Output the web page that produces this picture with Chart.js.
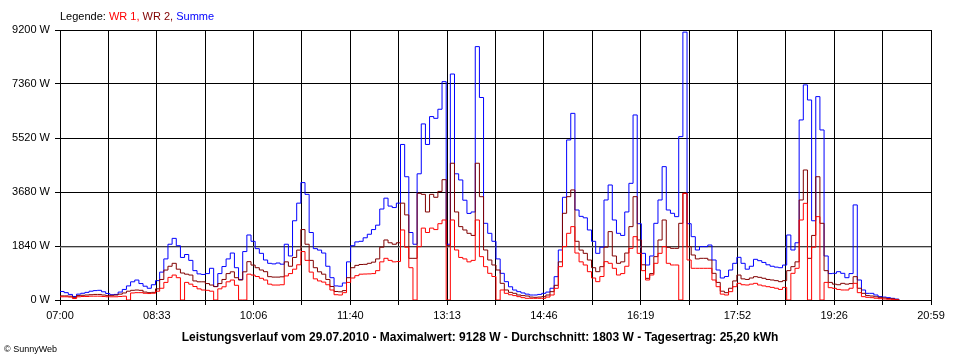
<!DOCTYPE html>
<html>
<head>
<meta charset="utf-8">
<script src="https://cdn.jsdelivr.net/npm/chart.js@4.4.1/dist/chart.umd.min.js"></script>
<style>
  html, body { margin: 0; padding: 0; background: #fff; }
  #wrap { position: relative; width: 960px; height: 360px; overflow: hidden; }
  #c { position: absolute; left: 0; top: 0; }
  .txt { position: absolute; font-family: 'Liberation Sans', Arial, sans-serif; color: #000; white-space: nowrap; }
  #legend { left: 60px; top: 10px; font-size: 11px; }
  #title { left: 0; width: 960px; top: 330px; text-align: center; font-size: 12px; font-weight: bold; }
  #copy { left: 4px; top: 344px; font-size: 9px; }
</style>
</head>
<body>
<div id="wrap">
  <canvas id="c" width="960" height="360"></canvas>
  <div id="legend" class="txt">Legende: <span style="color:#ff0000">WR 1,</span> <span style="color:#800000">WR 2,</span> <span style="color:#0000ff">Summe</span></div>
  <div id="title" class="txt">Leistungsverlauf vom 29.07.2010 - Maximalwert: 9128 W - Durchschnitt: 1803 W - Tagesertrag: 25,20 kWh</div>
  <div id="copy" class="txt">© SunnyWeb</div>
</div>
<script>
// Time axis: minutes after midnight, one sample every 4 minutes starting 07:00
const START_MIN = 420;
const STEP_MIN = 4;
const END_MIN = 1259; // 20:59

const X_TICK_LABELS = ['07:00','08:33','10:06','11:40','13:13','14:46','16:19','17:52','19:26','20:59'];
const Y_TICK_VALUES = [0, 1840, 3680, 5520, 7360, 9200];
const AVERAGE_W = 1803;

// WR 1 (W)
const WR1 = [
  110,110,100,50,110,120,120,130,130,130,
  120,110,110,110,120,130,0,240,250,250,
  230,220,230,300,400,600,770,850,760,0,
  600,540,460,380,340,330,300,0,380,450,
  620,680,500,0,0,880,850,800,740,680,
  540,510,510,520,820,900,1050,1200,1650,1350,
  950,720,650,610,520,340,180,170,250,600,
  750,830,880,885,890,900,1000,1300,1420,1350,
  1300,1310,2386,1800,1100,0,1818,2450,2300,2450,
  2400,2600,2726,0,2726,1704,1450,1400,1300,1350,
  2726,1477,1136,909,800,0,341,227,180,150,
  114,80,57,57,57,57,57,100,170,398,
  1136,1818,2272,2500,1600,1300,1193,965,750,625,
  800,1306,1250,1080,852,900,1150,1760,2158,1590,
  1000,682,852,1250,1590,1818,1250,1193,1193,0,
  3635,1363,1080,1080,1080,1080,1080,682,454,200,
  170,284,454,568,520,511,540,568,511,480,
  454,430,400,360,430,0,909,1080,2726,3294,
  0,1800,2840,0,600,420,398,360,341,341,
  400,568,250,114,90,80,60,45,35,25,
  20,10,0
];

// WR 2 (W)
const WR2 = [
  140,140,130,90,150,160,170,180,190,190,
  170,150,160,170,200,240,300,330,340,330,
  270,250,260,380,700,1020,1150,1250,1050,920,
  880,850,650,620,620,560,510,455,560,700,
  900,960,760,680,960,1306,1190,1100,1022,965,
  795,780,780,790,1300,1150,1450,1700,2400,1900,
  1350,1100,960,880,700,460,290,280,320,760,
  1100,1180,1210,1215,1250,1290,1400,1800,2045,1950,
  1900,1950,3300,2900,1420,1420,3635,3600,3000,3600,
  3500,3700,4100,1850,4660,3000,2500,2386,2272,2200,
  4660,3520,1704,1363,1193,1022,568,341,260,227,
  170,150,136,100,91,100,114,170,284,500,
  1300,2954,3521,3750,2000,1700,1590,1363,1100,965,
  1136,1800,2330,1500,1250,1300,1600,2500,3521,2045,
  1200,738,900,1477,2045,2726,1795,1760,1760,2613,
  3635,1818,1533,1400,1420,1420,1363,909,600,300,
  250,400,650,850,720,700,750,795,772,740,
  700,682,660,625,660,1000,1136,1300,3408,4430,
  1420,2200,4200,2613,1000,600,540,520,568,540,
  560,795,400,227,150,136,110,91,70,50,
  40,20,0
];

// Summe (W)
const SUMME = [
  290,250,190,120,200,230,260,300,320,330,
  280,220,180,190,270,360,480,620,680,560,
  470,400,520,660,950,1400,1900,2100,1850,1450,
  1550,1350,1000,890,870,900,1080,460,900,1140,
  1400,1600,1100,700,1650,2215,2000,1750,1590,1363,
  1250,1230,1260,1220,1900,1500,2700,3300,4000,3600,
  2300,1750,1700,1600,1150,760,480,470,580,1300,
  1850,1980,2000,2120,2240,2400,2550,3100,3470,3200,
  3150,3300,5300,4200,2300,1900,4300,6000,5300,6250,
  6190,6500,7440,1900,7700,4300,4090,3400,2950,3000,
  8634,6900,2613,2272,2000,1400,909,625,450,340,
  284,240,200,170,170,190,227,270,400,795,
  1704,3500,5453,6360,3067,2850,2800,2386,2000,1590,
  1800,3408,3919,2726,2272,2200,3000,3975,6305,2600,
  1590,1193,1500,2613,3408,4544,3067,2954,2840,5567,
  9128,2600,2158,1704,1818,1818,1874,1363,1022,750,
  800,1022,1250,1454,1250,1050,1150,1386,1340,1280,
  1200,1150,1120,1100,1190,2215,1704,1950,6135,7330,
  6815,2700,6930,5794,1500,900,909,965,909,760,
  900,3240,682,341,227,227,170,114,100,80,
  57,30,0
];

const times = SUMME.map((_, i) => START_MIN + i * STEP_MIN);
const toXY = arr => arr.map((v, i) => ({ x: times[i], y: v }));

const N_GRID = 18;
const xGridValues = [];
for (let k = 0; k <= N_GRID; k++) xGridValues.push(START_MIN + k * (END_MIN - START_MIN) / N_GRID);

const FONT = { family: "'Liberation Sans', Arial, sans-serif", size: 11 };

new Chart(document.getElementById('c'), {
  type: 'line',
  data: {
    datasets: [
      { label: 'WR 1', data: toXY(WR1), borderColor: '#ff0000', borderWidth: 1, stepped: true, pointRadius: 0, fill: false },
      { label: 'WR 2', data: toXY(WR2), borderColor: '#800000', borderWidth: 1, stepped: true, pointRadius: 0, fill: false },
      { label: 'Summe', data: toXY(SUMME), borderColor: '#0000ff', borderWidth: 1, stepped: true, pointRadius: 0, fill: false },
      { label: 'Durchschnitt', data: [{ x: START_MIN, y: AVERAGE_W }, { x: END_MIN, y: AVERAGE_W }], borderColor: '#909090', borderWidth: 1, pointRadius: 0, fill: false }
    ]
  },
  options: {
    responsive: false,
    animation: false,
    events: [],
    layout: { padding: { left: 0, right: 29, top: 30, bottom: 0 } },
    plugins: { legend: { display: false }, tooltip: { enabled: false }, title: { display: false } },
    scales: {
      x: {
        type: 'linear', min: START_MIN, max: END_MIN,
        afterBuildTicks: s => { s.ticks = xGridValues.map(v => ({ value: v })); },
        afterFit: s => { s.height = 60; },
        ticks: {
          autoSkip: false, maxRotation: 0, minRotation: 0, color: '#000', font: FONT, padding: 4,
          callback: (v, i) => (i % 2 === 0 ? X_TICK_LABELS[i / 2] : '')
        },
        grid: { color: '#000', lineWidth: 1, tickLength: 5, drawTicks: true },
        border: { color: '#000', width: 1 }
      },
      y: {
        min: 0, max: 9200,
        afterBuildTicks: s => { s.ticks = Y_TICK_VALUES.map(v => ({ value: v })); },
        afterFit: s => { s.width = 60; },
        ticks: { color: '#000', font: FONT, padding: 5, callback: v => v + ' W' },
        grid: { color: '#000', lineWidth: 1, tickLength: 5, drawTicks: true },
        border: { color: '#000', width: 1 }
      }
    }
  }
});
</script>
</body>
</html>
